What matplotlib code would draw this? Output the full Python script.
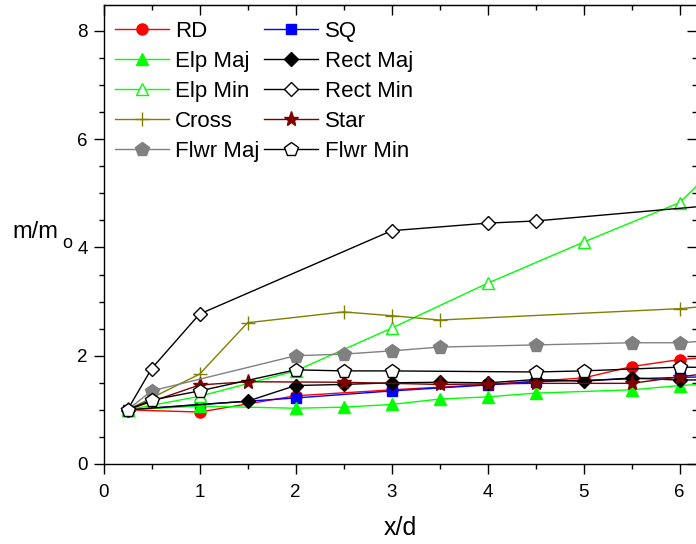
import matplotlib
matplotlib.use("Agg")
import matplotlib.pyplot as plt
from matplotlib.ticker import MultipleLocator

plt.rcParams['font.family'] = ['Liberation Sans', 'DejaVu Sans']

# values (points past x=6.2 are estimates of where lines leave the frame)
rd_x = [0.25, 1, 2, 3, 4, 5, 5.5, 6, 6.5]
rd_y = [1.0, 0.96, 1.26, 1.37, 1.47, 1.59, 1.80, 1.93, 2.0]

sq_x = [0.25, 1, 2, 3, 4, 4.5, 6, 6.5]
sq_y = [1.0, 1.1, 1.22, 1.35, 1.46, 1.52, 1.6, 1.62]

elpmaj_x = [0.25, 1, 2, 2.5, 3, 3.5, 4, 4.5, 5.5, 6, 6.5]
elpmaj_y = [1.0, 1.07, 1.03, 1.05, 1.1, 1.2, 1.24, 1.31, 1.37, 1.45, 1.5]

elpmin_x = [0.25, 1, 2, 3, 4, 5, 6, 6.5]
elpmin_y = [1.0, 1.25, 1.72, 2.51, 3.34, 4.1, 4.83, 5.7]

rectmaj_x = [0.25, 1.5, 2, 2.5, 3, 3.5, 4, 4.5, 5, 5.5, 6, 6.5]
rectmaj_y = [1.0, 1.16, 1.45, 1.47, 1.5, 1.51, 1.5, 1.56, 1.53, 1.59, 1.55, 1.56]

rectmin_x = [0.25, 0.5, 1, 3, 4, 4.5, 7]
rectmin_y = [1.0, 1.76, 2.77, 4.31, 4.45, 4.49, 4.88]

cross_x = [0.25, 1, 1.5, 2.5, 3, 3.5, 6, 6.5]
cross_y = [1.0, 1.66, 2.61, 2.81, 2.74, 2.66, 2.87, 2.95]

star_x = [0.25, 1, 1.5, 2.5, 3.5, 4, 4.5, 5.5, 6, 6.5]
star_y = [1.0, 1.46, 1.52, 1.51, 1.47, 1.48, 1.49, 1.49, 1.61, 1.72]

flwrmaj_x = [0.25, 0.5, 2, 2.5, 3, 3.5, 4.5, 5.5, 6, 6.5]
flwrmaj_y = [1.0, 1.35, 2.0, 2.03, 2.09, 2.16, 2.2, 2.24, 2.24, 2.3]

flwrmin_x = [0.25, 0.5, 1, 2, 2.5, 3, 4.5, 5, 6, 6.5]
flwrmin_y = [1.0, 1.18, 1.35, 1.74, 1.72, 1.72, 1.70, 1.72, 1.79, 1.78]

fig = plt.figure(figsize=(6.96, 5.44), dpi=100)
ax = fig.add_axes([103.5 / 696, 80 / 544, 593.5 / 696, 459 / 544])

lw = 1.0
ms = 8
h = {}
h['RD'], = ax.plot(rd_x, rd_y, '-o', color='red', lw=lw, ms=ms, label='RD')
h['SQ'], = ax.plot(sq_x, sq_y, '-s', color='blue', lw=lw, ms=ms - 0.5, label='SQ')
h['Elp Maj'], = ax.plot(elpmaj_x, elpmaj_y, '-^', color='#00ff00', lw=lw, ms=ms + 1, label='Elp Maj')
h['Elp Min'], = ax.plot(elpmin_x, elpmin_y, '-^', color='#00ff00', mfc='white', mec='#00ff00',
                        lw=lw, ms=ms + 1, label='Elp Min')
h['Rect Maj'], = ax.plot(rectmaj_x, rectmaj_y, '-D', color='black', lw=lw, ms=ms - 1, label='Rect Maj')
h['Rect Min'], = ax.plot(rectmin_x, rectmin_y, '-D', color='black', mfc='white', lw=lw,
                         ms=ms - 1, label='Rect Min')
h['Cross'], = ax.plot(cross_x, cross_y, '-+', color='#808000', lw=lw, ms=ms + 2, mew=1.0, label='Cross')
h['Star'], = ax.plot(star_x, star_y, '-*', color='#800000', lw=lw, ms=ms + 3, label='Star')
h['Flwr Maj'], = ax.plot(flwrmaj_x, flwrmaj_y, '-p', color='gray', lw=lw, ms=ms + 2, label='Flwr Maj')
h['Flwr Min'], = ax.plot(flwrmin_x, flwrmin_y, '-p', color='black', mfc='white', lw=lw,
                         ms=ms + 2, label='Flwr Min')

ax.set_xlim(0, 6.18)
ax.set_ylim(0, 8.48)
ax.xaxis.set_major_locator(MultipleLocator(1))
ax.xaxis.set_minor_locator(MultipleLocator(0.5))
ax.yaxis.set_major_locator(MultipleLocator(2))
ax.yaxis.set_minor_locator(MultipleLocator(0.5))
ax.tick_params(which='both', direction='out', labelsize=13.5, width=1.0,
               top=False, right=False)
ax.tick_params(which='major', length=7)
ax.tick_params(which='minor', length=3.5)
ax.tick_params(axis='x', which='major', pad=7.4)
ax.tick_params(axis='y', which='major', pad=4.5)
for s in ax.spines.values():
    s.set_linewidth(1.0)

# mirrored axes with inward ticks
top = ax.secondary_xaxis('top')
top.xaxis.set_major_locator(MultipleLocator(1))
top.xaxis.set_minor_locator(MultipleLocator(0.5))
top.tick_params(which='both', direction='in', labeltop=False, width=1.0)
top.tick_params(which='major', length=7)
top.tick_params(which='minor', length=3.5)
right = ax.secondary_yaxis('right')
right.yaxis.set_major_locator(MultipleLocator(2))
right.yaxis.set_minor_locator(MultipleLocator(0.5))
right.tick_params(which='both', direction='in', labelright=False, width=1.0)
right.tick_params(which='major', length=7)
right.tick_params(which='minor', length=3.5)

ax.set_xlabel('x/d', fontsize=18, labelpad=11)
fig.text(12 / 696, 1 - 238 / 544, 'm/m', fontsize=17, va='baseline', ha='left')
fig.text(62 / 696, 1 - 248 / 544, 'o', fontsize=13, va='baseline', ha='left')

order = ['RD', 'Elp Maj', 'Elp Min', 'Cross', 'Flwr Maj',
         'SQ', 'Rect Maj', 'Rect Min', 'Star', 'Flwr Min']
ax.legend([h[k] for k in order], order, ncol=2, frameon=False, fontsize=16,
          loc='upper left', bbox_to_anchor=(0.0, 0.99), handlelength=2.43,
          handletextpad=0.3, columnspacing=0.2, labelspacing=0.41, borderaxespad=0.2,
          borderpad=0.3)

fig.savefig('out.png', dpi=100)
